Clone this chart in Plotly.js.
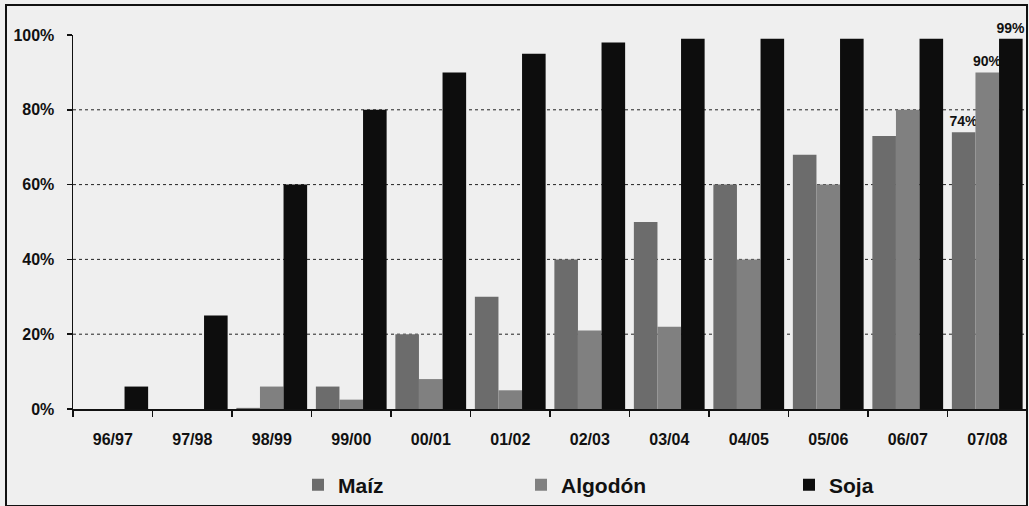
<!DOCTYPE html>
<html>
<head>
<meta charset="utf-8">
<script src="https://cdn.plot.ly/plotly-3.0.1.min.js"></script>
<style>
  html, body { margin: 0; padding: 0; background: #efefef; }
  #wrap { position: relative; width: 1029px; height: 506px; }
  #chart { width: 1029px; height: 506px; }
  #frame { position: absolute; left: 5px; top: 4px; width: 1019px; height: 499px; border: 2px solid #111; pointer-events: none; }
</style>
</head>
<body>
<div id="wrap"><div id="chart"></div><div id="frame"></div></div>
<script>
const categories = ['96/97','97/98','98/99','99/00','00/01','01/02','02/03','03/04','04/05','05/06','06/07','07/08'];
const maiz    = [0, 0, 0.3, 6, 20, 30, 40, 50, 60, 68, 73, 74];
const algodon = [0, 0, 6, 2.5, 8, 5, 21, 22, 40, 60, 80, 90];
const soja    = [6, 25, 60, 80, 90, 95, 98, 99, 99, 99, 99, 99];
const maizText    = ['', '', '', '', '', '', '', '', '', '', '', '74%'];
const algodonText = ['', '', '', '', '', '', '', '', '', '', '', '90%'];
const sojaText    = ['', '', '', '', '', '', '', '', '', '', '', '99%'];
const yTicks = [0, 20, 40, 60, 80, 100];
const yTickText = ['0%', '20%', '40%', '60%', '80%', '100%'];
const gridVals = [20, 40, 60, 80];

const FONT = 'Liberation Sans, Arial, sans-serif';
const labelFont = {family: FONT, size: 14, color: '#111', weight: 'bold'};

function mk(name, y, txt, color, leg) {
  return {
    type: 'bar', name: name, x: categories, y: y,
    text: txt, textposition: 'outside', cliponaxis: false,
    constraintext: 'none', textfont: labelFont,
    marker: {color: color, line: {width: 0}},
    legend: leg, hoverinfo: 'skip'
  };
}

const data = [
  mk('Maíz', maiz, maizText, '#6c6c6c', 'legend'),
  mk('Algodón', algodon, algodonText, '#808080', 'legend2'),
  mk('Soja', soja, sojaText, '#0d0d0d', 'legend3')
];

const legFont = {family: FONT, size: 21, color: '#111', weight: 'bold'};
function leg(x) {
  return {x: x, y: -0.2, xanchor: 'left', yanchor: 'middle', orientation: 'h',
          bgcolor: 'rgba(0,0,0,0)', font: legFont};
}
// plot area spans 73..1027 px
const px = v => (v - 73) / 954;

const layout = {
  width: 1029, height: 506,
  margin: {l: 73, r: 2, t: 35, b: 96},
  paper_bgcolor: '#efefef', plot_bgcolor: '#efefef',
  barmode: 'group', bargap: 0.11, bargroupgap: 0,
  showlegend: true,
  legend: leg(px(298)), legend2: leg(px(521)), legend3: leg(px(789)),
  xaxis: {
    type: 'category', showline: true, linecolor: '#111', linewidth: 1.5,
    ticks: 'outside', tickson: 'boundaries', ticklen: 6, tickcolor: '#111', tickwidth: 1.5,
    tickfont: {family: FONT, size: 16, color: '#111', weight: 'bold'},
    ticklabelstandoff: 15, showgrid: false, zeroline: false
  },
  yaxis: {
    range: [0, 100], showline: true, linecolor: '#111', linewidth: 1.5,
    tickvals: yTicks, ticktext: yTickText,
    ticks: 'outside', ticklen: 5, tickcolor: '#111', tickwidth: 1.5,
    tickfont: {family: FONT, size: 16, color: '#111', weight: 'bold'},
    ticklabelstandoff: 9, showgrid: false, zeroline: false
  },
  shapes: gridVals.map(v => ({
    type: 'line', xref: 'paper', yref: 'y', x0: 0, x1: 1, y0: v, y1: v,
    line: {color: '#222', width: 1, dash: '3px,3px'}, layer: 'below'
  }))
};

Plotly.newPlot('chart', data, layout, {displayModeBar: false, staticPlot: true});
</script>
</body>
</html>
